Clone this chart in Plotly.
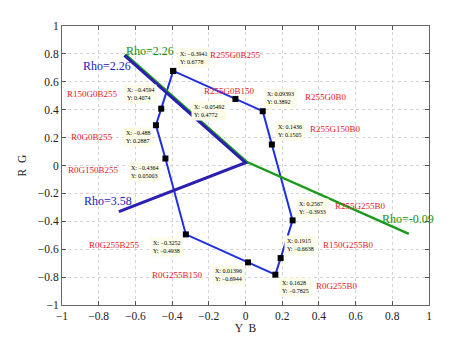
import plotly.graph_objects as go

# Loop of data-tip points (Y-B, R-G)
loop_x = [-0.3941, -0.05492, 0.09393, 0.1436, 0.2567, 0.1915, 0.1628, 0.01396, -0.3252, -0.4364, -0.488, -0.4594, -0.3941]
loop_y = [0.6778, 0.4772, 0.3892, 0.1505, -0.3933, -0.6638, -0.7825, -0.6944, -0.4938, 0.05003, 0.2887, 0.4074, 0.6778]

# Rho lines
green_x = [-0.654, 0.006, 0.89]
green_y = [0.797, 0.027, -0.49]
blue_x = [-0.66, 0.0, -0.69]
blue_y = [0.79, 0.02, -0.33]

# Data tip boxes: (text x, text y, tip X, tip Y)
tip_pos_x = [-0.286, -0.199, 0.188, 0.243, 0.365, 0.30, 0.27, -0.095, -0.433, -0.548, -0.586, -0.572]
tip_pos_y = [0.77, 0.391, 0.484, 0.244, -0.303, -0.572, -0.871, -0.785, -0.584, -0.043, 0.201, 0.509]
tip_x_txt = ["-0.3941", "-0.05492", "0.09393", "0.1436", "0.2567", "0.1915", "0.1628", "0.01396", "-0.3252", "-0.4364", "-0.488", "-0.4594"]
tip_y_txt = ["0.6778", "0.4772", "0.3892", "0.1505", "-0.3933", "-0.6638", "-0.7825", "-0.6944", "-0.4938", "0.05003", "0.2887", "0.4074"]

# Colour labels
color_names = ["R255G0B255", "R255G0B150", "R255G0B0", "R255G150B0", "R255G255B0", "R150G255B0",
               "R0G255B0", "R0G255B150", "R0G255B255", "R0G150B255", "R0G0B255", "R150G0B255"]
color_x = [-0.052, -0.085, 0.436, 0.493, 0.624, 0.564, 0.496, -0.373, -0.714, -0.83, -0.837, -0.834]
color_y = [0.792, 0.536, 0.493, 0.262, -0.293, -0.570, -0.864, -0.783, -0.572, -0.032, 0.207, 0.51]

# Rho labels
rho_text = ["Rho=2.26", "Rho=2.26", "Rho=3.58", "Rho=-0.09"]
rho_x = [-0.52, -0.755, -0.75, 0.883]
rho_y = [0.82, 0.713, -0.254, -0.381]
rho_col = ["#139013", "#2418b8", "#2418b8", "#139013"]

SERIF = "Liberation Serif"
BLUE = "#1f2fe0"

fig = go.Figure()
fig.add_trace(go.Scatter(x=loop_x, y=loop_y, mode="lines+markers",
                         line=dict(color=BLUE, width=2),
                         marker=dict(symbol="square", size=6, color="black"),
                         hoverinfo="skip"))
fig.add_trace(go.Scatter(x=green_x, y=green_y, mode="lines",
                         line=dict(color="#1a9a1a", width=2.4), hoverinfo="skip"))
fig.add_trace(go.Scatter(x=blue_x, y=blue_y, mode="lines",
                         line=dict(color="#2a1fb0", width=3), hoverinfo="skip"))

for tx, ty, a, b in zip(tip_pos_x, tip_pos_y, tip_x_txt, tip_y_txt):
    fig.add_annotation(x=tx, y=ty, text="X: " + a.replace("-", "\u2212") + "<br>Y: " + b.replace("-", "\u2212"),
                       showarrow=False, align="left", bgcolor="#fcfce8",
                       font=dict(family=SERIF, size=6, color="black"), borderpad=2)

for name, cx, cy in zip(color_names, color_x, color_y):
    fig.add_annotation(x=cx, y=cy, text=name, showarrow=False,
                       font=dict(family=SERIF, size=9, color="#e8202a"))

for t, rx, ry, c in zip(rho_text, rho_x, rho_y, rho_col):
    fig.add_annotation(x=rx, y=ry, text=t, showarrow=False,
                       font=dict(family=SERIF, size=12, color=c))

ticks = [-1, -0.8, -0.6, -0.4, -0.2, 0, 0.2, 0.4, 0.6, 0.8, 1]
ticklabels = [("\u2212" + str(abs(v)) if v < 0 else str(v)) for v in ticks]

axis_common = dict(range=[-1, 1], tickvals=ticks, ticktext=ticklabels,
                   ticks="inside", ticklen=4, tickcolor="#555",
                   showline=True, linecolor="#666", linewidth=1, mirror="ticks",
                   showgrid=True, gridcolor="#d4d4d4", griddash="dot", gridwidth=1,
                   zeroline=False, tickfont=dict(family=SERIF, size=11.5, color="#222"))

fig.update_layout(
    width=474, height=344,
    margin=dict(l=62, r=45, t=26, b=39),
    paper_bgcolor="white", plot_bgcolor="white",
    showlegend=False,
    xaxis=dict(**axis_common, title=dict(text="Y  B", font=dict(family=SERIF, size=11.5, color="#222"), standoff=0)),
    yaxis=dict(**axis_common, title=dict(text="R  G", font=dict(family=SERIF, size=11.5, color="#222"), standoff=8)),
)

fig.write_html("out.html")
